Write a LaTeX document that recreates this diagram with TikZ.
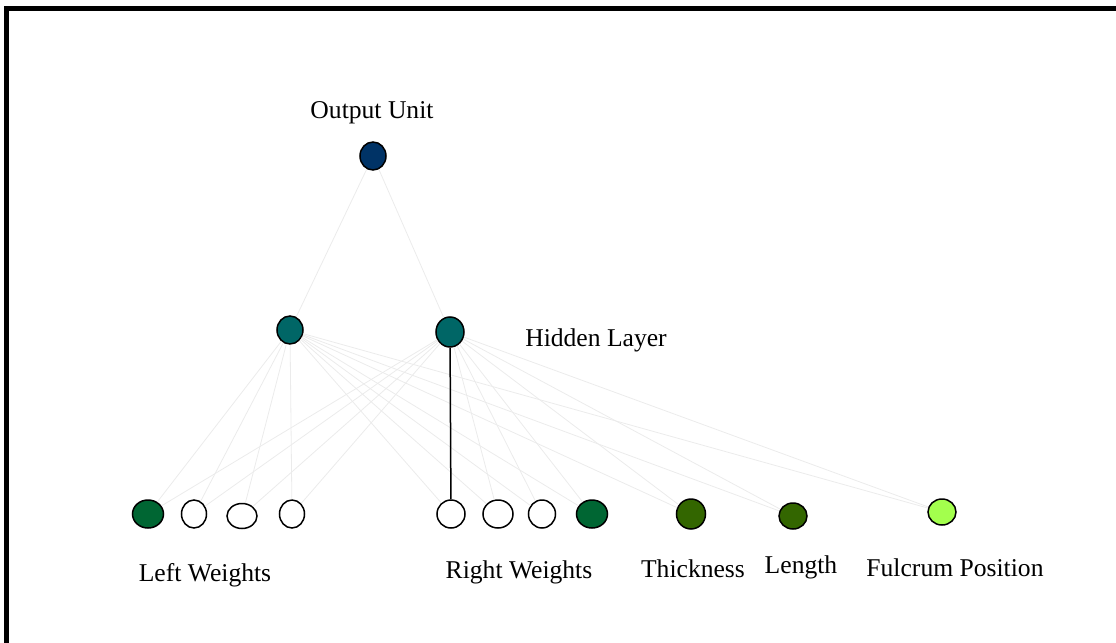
\documentclass[tikz,border=0pt]{standalone}
\usepackage{fontspec}
\setmainfont{Liberation Serif}
\usetikzlibrary{shapes.geometric}
\definecolor{outblue}{HTML}{003366}
\definecolor{hidteal}{HTML}{006666}
\definecolor{wgreen}{HTML}{006633}
\definecolor{barolive}{HTML}{336600}
\definecolor{fulcgreen}{HTML}{A3FF4D}
\definecolor{faint}{HTML}{EBEBEB}

\tikzset{
  unit/.style={draw, ellipse, line width=0.75pt, inner sep=0pt, minimum width=14pt, minimum height=14pt},
  lbl/.style={font=\fontsize{12.8}{15}\selectfont, inner sep=0pt},
  wire/.style={faint, line width=0.4pt}
}

\begin{document}
\begin{tikzpicture}[x=0.5pt, y=-0.5pt]
    \useasboundingbox (0,0) rectangle (1116,643);
    % frame
    \draw [line width=2.5pt] (1116,8.5) -- (6.5,8.5) -- (6.5,643);

    % output and hidden units
    \node[unit, fill=outblue, minimum width=13pt] (out) at (373,156) {};
    \node[unit, fill=hidteal, minimum width=13pt] (h1) at (290,330) {};
    \node[unit, fill=hidteal, minimum height=15pt] (h2) at (450,332) {};

    % input units
    \node[unit, fill=wgreen, minimum width=15.5pt] (lw1) at (148,514) {};
    \node[unit, minimum width=12.5pt] (lw2) at (194,514) {};
    \node[unit, minimum width=15pt, minimum height=12.5pt] (lw3) at (242,516) {};
    \node[unit, minimum width=12.5pt] (lw4) at (292,514) {};
    \node[unit] (rw1) at (451,514) {};
    \node[unit, minimum width=15pt] (rw2) at (498,514) {};
    \node[unit, minimum width=13.5pt] (rw3) at (542,514) {};
    \node[unit, fill=wgreen, minimum width=15.5pt] (rw4) at (592,514) {};
    \node[unit, fill=barolive, minimum width=14.5pt, minimum height=15pt] (thick) at (691,514) {};
    \node[unit, fill=barolive, minimum height=13pt] (len) at (793,516) {};
    \node[unit, fill=fulcgreen, minimum height=13pt] (fulc) at (942,512) {};

    % labels
    \node[lbl] (outlbl) at (372,113) {Output Unit};
    \node[lbl] (hidlbl) at (596,340) {Hidden Layer};
    \node[lbl] (leftlbl) at (205,575) {Left Weights};
    \node[lbl] (rightlbl) at (519,572) {Right Weights};
    \node[lbl] (thicklbl) at (693,569) {Thickness};
    \node[lbl] (lenlbl) at (801,567) {Length};
    \node[lbl] (fulclbl) at (955,568) {Fulcrum Position};

    % connections
    \draw [wire] (out) -- (h1);
    \draw [wire] (out) -- (h2);
    \foreach \h in {h1,h2}
      \foreach \i in {lw1,lw2,lw3,lw4,rw1,rw2,rw3,rw4,thick,len,fulc}
        \draw [wire] (\h) -- (\i);
    \draw [line width=0.75pt] (h2) -- (rw1);
\end{tikzpicture}
\end{document}
